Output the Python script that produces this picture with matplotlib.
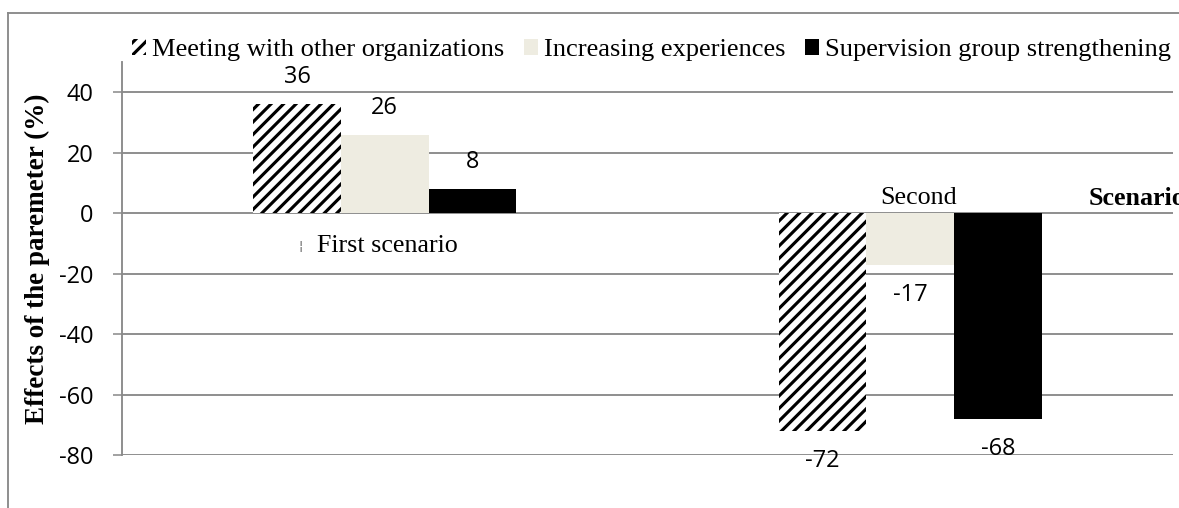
import matplotlib
matplotlib.use("Agg")
import matplotlib.pyplot as plt
from matplotlib.lines import Line2D
import numpy as np

# datos del grafico
escenarios = ["First scenario", "Second Scenario"]
series = ["Meeting with other organizations", "Increasing experiences", "Supervision group strengthening"]
reunion = [36, -72]
experiencia = [26, -17]
supervision = [8, -68]
ticks_y = [-80, -60, -40, -20, 0, 20, 40]

GRIS = "#8a8a8a"
DPI = 75
W, H = 1179, 508

plt.rcParams["hatch.linewidth"] = 3.0
plt.rcParams["axes.unicode_minus"] = False

fig = plt.figure(figsize=(W / DPI, H / DPI), dpi=DPI)
ax = fig.add_axes([122 / W, 1 - 455 / H, (1173 - 122) / W, (455 - 62) / H])

x = np.arange(len(escenarios))
ancho = 0.167
b1 = ax.bar(x - ancho, reunion, ancho, facecolor="white", edgecolor="black",
            hatch="//", linewidth=0, label=series[0], zorder=3)
b2 = ax.bar(x, experiencia, ancho, color="#EEECE1", linewidth=0, label=series[1], zorder=3)
b3 = ax.bar(x + ancho, supervision, ancho, color="black", linewidth=0, label=series[2], zorder=3)

# etiquetas de valores
for barras in (b1, b2, b3):
    for r in barras:
        v = r.get_height()
        dy = 27 if v >= 0 else -30
        ax.annotate(f"{v:g}", (r.get_x() + r.get_width() / 2, v),
                    xytext=(0, dy * 72 / DPI), textcoords="offset points",
                    ha="center", va="center", fontsize=22.5, family="Open Sans",
                    zorder=4)

ax.set_xlim(-0.5, 1.5)
ax.set_ylim(-80, 50)
ax.set_yticks(ticks_y)
ax.set_xticks([])
ax.tick_params(axis="y", length=8.6, width=1.5, color=GRIS, pad=19,
               labelsize=22.5)
for t in ax.get_yticklabels():
    t.set_family("Open Sans")
ax.grid(axis="y", color=GRIS, linewidth=1.8, zorder=0)
for s in ("top", "right", "bottom"):
    ax.spines[s].set_visible(False)
ax.spines["left"].set_color(GRIS)
ax.spines["left"].set_linewidth(1.8)

ax.set_ylabel("Effects of the paremeter (%)", family="Liberation Serif",
              fontweight="bold", fontsize=26)
ax.yaxis.set_label_coords((50 - 122) / (1173 - 122), 0.5)

# nombres de escenarios (como en el original)
ax.text(-0.16, -10.9, "¦", ha="center", va="center", fontsize=12,
        family="DejaVu Sans", color="#555555")
ax.text(0.005, -10.9, escenarios[0], ha="center", va="center",
        fontsize=25, family="Liberation Serif")
primera, segunda = escenarios[1].split()
ax.text(1.016, 4.9, primera, ha="center", va="center",
        fontsize=25, family="Liberation Serif")
ax.text(1.34, 4.9, segunda, ha="left", va="center", fontsize=25,
        family="Liberation Serif", fontweight="bold", clip_on=False)

fig.legend(handles=[b1, b2, b3], labels=series, loc="center left",
           bbox_to_anchor=(132 / W, 1 - 50 / H), ncol=3, frameon=False,
           handlelength=0.53, handleheight=0.53, handletextpad=0.23,
           columnspacing=0.74, borderpad=0, borderaxespad=0,
           prop={"family": "Liberation Serif", "size": 25.4})

# marco exterior
fig.add_artist(Line2D([8 / W, 8 / W], [0, 1 - 13 / H], color=GRIS,
                      linewidth=1.8, transform=fig.transFigure))
fig.add_artist(Line2D([8 / W, 1], [1 - 13 / H, 1 - 13 / H], color=GRIS,
                      linewidth=1.8, transform=fig.transFigure))

fig.savefig("out.png", dpi=DPI)
